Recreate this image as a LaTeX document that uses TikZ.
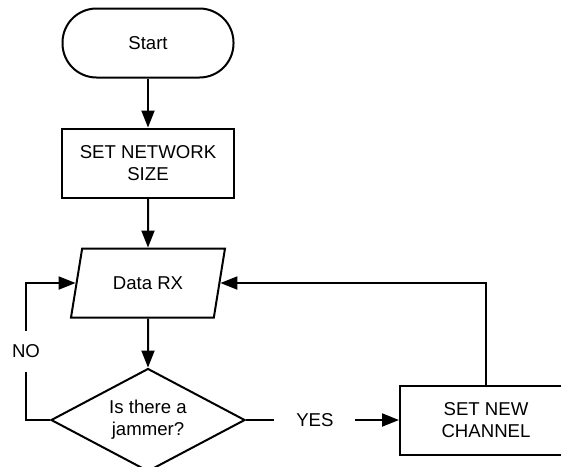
\documentclass[tikz,border=0pt]{standalone}
\usepackage{fontspec}
\setmainfont{Liberation Sans}
\usetikzlibrary{arrows.meta,positioning,shapes.geometric}

\begin{document}
\begin{tikzpicture}[
  x=0.5pt, y=-0.5pt,
  node distance=24.5pt and 76.5pt,
  every node/.style={font=\fontsize{9.3}{11}\selectfont},
  terminal/.style={draw, line width=1pt, rounded corners=17pt, minimum width=85.5pt, minimum height=34.5pt, align=center},
  process/.style={draw, line width=1pt, minimum width=86pt, minimum height=34.5pt, align=center},
  io/.style={draw, line width=1pt, trapezium, trapezium left angle=67, trapezium right angle=113, trapezium stretches body, minimum width=77pt, minimum height=34.5pt, align=center},
  decision/.style={draw, line width=1pt, diamond, aspect=1.9, inner sep=0pt, minimum width=97pt, minimum height=51.5pt, align=center},
  flow/.style={-{Triangle[length=8.5pt, width=6.5pt]}, line width=1pt}
]
\useasboundingbox (0,0) rectangle (561,466);
\node[terminal] (start) at (148,43) {Start};
\node[process, below=of start] (netsize) {SET NETWORK\\SIZE};
\node[io, below=of netsize] (datarx) {Data RX};
\node[decision, below=of datarx] (jammer) {Is there a\\jammer?};
\node[process, right=of jammer] (newchan) {SET NEW\\CHANNEL};
\draw[flow] (start) -- (netsize);
\draw[flow] (netsize) -- (datarx);
\draw[flow] (datarx) -- (jammer);
\draw[flow] (jammer.west) -- ++(-24,0) |- node[pos=0.25, fill=white, inner xsep=1pt, inner ysep=7pt]{NO} (datarx.west);
\draw[flow] (jammer) -- node[pos=0.45, fill=white, inner xsep=11pt]{YES} (newchan);
\draw[flow] (newchan.north) |- (datarx.east);
\end{tikzpicture}
\end{document}
